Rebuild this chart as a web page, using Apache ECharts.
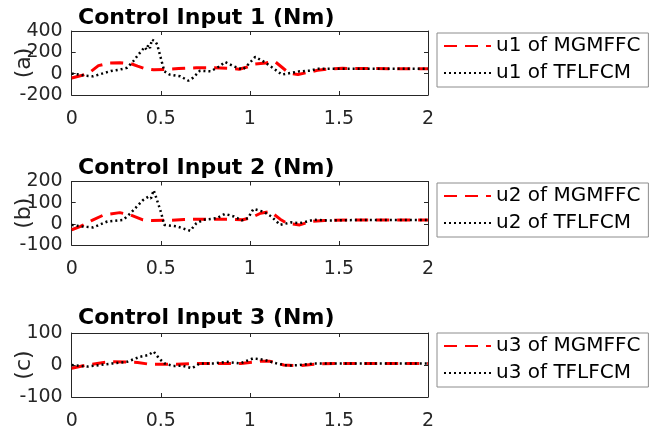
<!DOCTYPE html>
<html><head><meta charset="utf-8">
<script src="https://cdn.jsdelivr.net/npm/echarts@6/dist/echarts.min.js"></script>
<style>html,body{margin:0;padding:0;background:#fff}#c{width:652px;height:426px}</style>
</head><body><div id="c"></div>
<script>
// ---- data ----
const titles = ['Control Input 1 (Nm)', 'Control Input 2 (Nm)', 'Control Input 3 (Nm)'];
const yNames = ['(a)', '(b)', '(c)'];
const xTicks = [0, 0.5, 1, 1.5, 2];
const yTicks1 = [-200, 0, 200, 400];
const yTicks2 = [-100, 0, 100, 200];
const yTicks3 = [-100, 0, 100];
const names1 = ['u1 of MGMFFC', 'u1 of TFLFCM'];
const names2 = ['u2 of MGMFFC', 'u2 of TFLFCM'];
const names3 = ['u3 of MGMFFC', 'u3 of TFLFCM'];

const t1Red = [0, 0.06, 0.10, 0.15, 0.21, 0.27, 0.33, 0.37, 0.41, 0.46, 0.52, 0.60, 0.70, 0.80, 0.88, 0.94, 0.98, 1.03, 1.09, 1.14, 1.18, 1.22, 1.27, 1.32, 1.38, 1.44, 1.52, 1.65, 1.80, 2.0];
const v1Red = [-40, -15, 10, 75, 100, 103, 95, 70, 48, 36, 40, 48, 55, 55, 50, 42, 60, 90, 100, 115, 60, 5, -8, 10, 32, 44, 50, 48, 47, 47];
const t1Blk = [0, 0.03, 0.08, 0.12, 0.17, 0.22, 0.27, 0.31, 0.345, 0.37, 0.39, 0.41, 0.42, 0.43, 0.44, 0.45, 0.46, 0.47, 0.48, 0.50, 0.52, 0.55, 0.61, 0.655, 0.68, 0.72, 0.78, 0.83, 0.86, 0.91, 0.96, 0.99, 1.03, 1.075, 1.13, 1.18, 1.23, 1.28, 1.34, 1.38, 1.45, 1.52, 1.7, 2.0];
const v1Blk = [0, -5, -20, -25, 0, 25, 38, 55, 116, 170, 210, 250, 225, 270, 240, 320, 335, 300, 272, 147, 22, -9, -25, -66, -40, 28, 22, 69, 110, 69, 38, 85, 157, 116, 53, -9, 7, 22, 28, 45, 47, 47, 47, 47];

const t2Red = [0, 0.05, 0.12, 0.18, 0.27, 0.33, 0.40, 0.45, 0.55, 0.63, 0.70, 0.80, 0.88, 0.96, 1.01, 1.06, 1.115, 1.17, 1.21, 1.28, 1.34, 1.42, 1.55, 1.75, 2.0];
const v2Red = [-28, -12, 19, 42, 53, 42, 19, 16, 17, 20, 22, 22, 22, 19, 30, 50, 58, 22, 2, -5, 11, 16, 18, 18, 18];
const t2Blk = [0, 0.05, 0.12, 0.2, 0.29, 0.33, 0.365, 0.40, 0.43, 0.445, 0.46, 0.47, 0.50, 0.52, 0.59, 0.665, 0.70, 0.74, 0.815, 0.86, 0.91, 0.955, 0.99, 1.02, 1.075, 1.12, 1.17, 1.23, 1.28, 1.36, 1.44, 1.6, 2.0];
const v2Blk = [-5, -12, -17, 11, 19, 50, 81, 112, 128, 120, 159, 135, 58, -5, -12, -33, 3, 19, 27, 47, 35, 16, 27, 70, 58, 35, -5, 7, 3, 19, 16, 18, 18];

const t3Red = [0, 0.085, 0.18, 0.23, 0.31, 0.37, 0.44, 0.59, 0.68, 0.80, 0.95, 1.06, 1.11, 1.19, 1.28, 1.37, 1.5, 2.0];
const v3Red = [-10, 0, 8, 10, 9, 8, 2, 2, 5, 5, 5, 12, 12, 0, -2, 3, 5, 5];
const t3Blk = [0, 0.085, 0.16, 0.23, 0.31, 0.385, 0.43, 0.46, 0.49, 0.52, 0.57, 0.62, 0.675, 0.72, 0.80, 0.87, 0.945, 1.02, 1.08, 1.15, 1.21, 1.28, 1.36, 1.5, 2.0];
const v3Blk = [0, -5, 0, 5, 10, 26, 31, 42, 21, 5, -3, -2, -10, 5, 5, 10, 5, 21, 16, 5, -2, 0, 5, 5, 5];

// ---- build ----
const zip = (t, v) => t.map((x, i) => [x, v[i]]);
const FONT = 'DejaVu Sans';
const panels = [
  { top: 31, height: 64, yT: yTicks1, names: names1, red: zip(t1Red, v1Red), blk: zip(t1Blk, v1Blk), legTop: 33, titleTop: 7 },
  { top: 181.5, height: 63.5, yT: yTicks2, names: names2, red: zip(t2Red, v2Red), blk: zip(t2Blk, v2Blk), legTop: 183, titleTop: 157 },
  { top: 333, height: 64, yT: yTicks3, names: names3, red: zip(t3Red, v3Red), blk: zip(t3Blk, v3Blk), legTop: 333, titleTop: 307 }
];
const axisCol = '#262626';
const grid = [], xAxis = [], yAxis = [], series = [], legend = [], title = [];
panels.forEach((p, i) => {
  grid.push({ left: 71.7, width: 356.3, top: p.top, height: p.height, show: false, containLabel: false, outerBoundsMode: 'none' });
  const yInt = p.yT[1] - p.yT[0];
  const xBase = { type: 'value', gridIndex: i, min: xTicks[0], max: xTicks[xTicks.length - 1], interval: xTicks[1] - xTicks[0],
    splitLine: { show: false }, axisLine: { show: true, onZero: false, lineStyle: { color: axisCol, width: 1 } },
    axisTick: { show: true, inside: true, length: 4, lineStyle: { color: axisCol } } };
  xAxis.push(Object.assign({}, xBase, { position: 'bottom',
    axisLabel: { show: true, color: axisCol, fontFamily: FONT, fontSize: 19, margin: 15 } }));
  xAxis.push(Object.assign({}, xBase, { position: 'top', axisLabel: { show: false } }));
  const yBase = { type: 'value', gridIndex: i, min: p.yT[0], max: p.yT[p.yT.length - 1], interval: yInt,
    splitLine: { show: false }, axisLine: { show: true, onZero: false, lineStyle: { color: axisCol, width: 1 } },
    axisTick: { show: true, inside: true, length: 4, lineStyle: { color: axisCol } } };
  yAxis.push(Object.assign({}, yBase, { position: 'left',
    name: yNames[i], nameLocation: 'middle', nameGap: 36, nameRotate: 90, nameMoveOverlap: false,
    nameTextStyle: { color: axisCol, fontFamily: FONT, fontSize: 22 },
    axisLabel: { show: true, color: axisCol, fontFamily: FONT, fontSize: 19, margin: 9 } }));
  yAxis.push(Object.assign({}, yBase, { position: 'right', axisLabel: { show: false } }));
  series.push({ type: 'line', name: p.names[0], xAxisIndex: 2 * i, yAxisIndex: 2 * i, data: p.red,
    showSymbol: false, symbol: 'none', lineStyle: { color: '#ff0000', width: 3, type: [13, 8] }, itemStyle: { color: '#ff0000' }, z: 2 });
  series.push({ type: 'line', name: p.names[1], xAxisIndex: 2 * i, yAxisIndex: 2 * i, data: p.blk,
    showSymbol: false, symbol: 'none', lineStyle: { color: '#000000', width: 2.5, type: [2, 3] }, itemStyle: { color: '#000000' }, z: 3 });
  legend.push({ data: p.names, orient: 'vertical', left: 437, top: p.legTop, itemWidth: 47, itemHeight: 14, itemGap: 7,
    borderColor: '#8c8c8c', borderWidth: 1, padding: [3, 8, 4, 6], backgroundColor: '#fff', selectedMode: false,
    itemStyle: { opacity: 0 },
    textStyle: { color: '#000', fontFamily: FONT, fontSize: 20, lineHeight: 20 } });
  title.push({ text: titles[i], left: 78, top: p.titleTop, padding: 0,
    textStyle: { color: '#000', fontFamily: FONT, fontSize: 22, fontWeight: 'bold' } });
});
const chart = echarts.init(document.getElementById('c'), null, { renderer: 'canvas' });
chart.setOption({ animation: false, backgroundColor: '#fff', title, grid, xAxis, yAxis, series, legend });
</script>
</body></html>
